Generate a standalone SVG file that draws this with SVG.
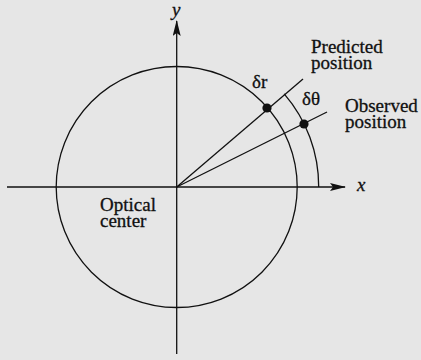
<svg xmlns="http://www.w3.org/2000/svg" width="421" height="360" viewBox="0 0 421 360">
<defs>
<style>
.ln{stroke:#111;stroke-width:1.3;fill:none}
.t{font-family:"Liberation Serif","Times New Roman",serif;font-size:19px;fill:#111;stroke:#111;stroke-width:0.3}
.it{font-style:italic}
</style>
<marker id="ah" markerWidth="16" markerHeight="8" refX="15" refY="4" orient="auto" markerUnits="userSpaceOnUse">
<path d="M0,0 L16,4 L0,8 L3,4 Z" fill="#111"/>
</marker>
</defs>
<rect width="421" height="360" fill="#e6e6e6"/>
<g id="connectors">
<line class="ln" x1="7" y1="187" x2="345" y2="187" marker-end="url(#ah)"/>
<line class="ln" x1="176.7" y1="354" x2="176.7" y2="21" marker-end="url(#ah)"/>
<circle class="ln" cx="176.7" cy="187" r="120.5"/>
<path class="ln" d="M284.2,93.8 A142,142 0 0 1 318.7,187"/>
<line class="ln" x1="176.7" y1="187" x2="303" y2="79"/>
<line class="ln" x1="176.7" y1="187" x2="327" y2="112"/>
</g>
<g id="predicted">
<circle cx="267" cy="108" r="4.6" fill="#111"/>
<text class="t" x="311" y="53">Predicted</text>
<text class="t" x="311" y="69">position</text>
</g>
<g id="observed">
<circle cx="304" cy="124" r="4.6" fill="#111"/>
<text class="t" x="345" y="112">Observed</text>
<text class="t" x="345" y="128">position</text>
</g>
<g id="labels">
<text class="t" x="252" y="88">δr</text>
<text class="t" x="302" y="105">δθ</text>
<text class="t it" x="172" y="16">y</text>
<text class="t it" x="357" y="191">x</text>
</g>
<g id="optical-center">
<text class="t" x="100" y="211">Optical</text>
<text class="t" x="100" y="227">center</text>
</g>
</svg>
